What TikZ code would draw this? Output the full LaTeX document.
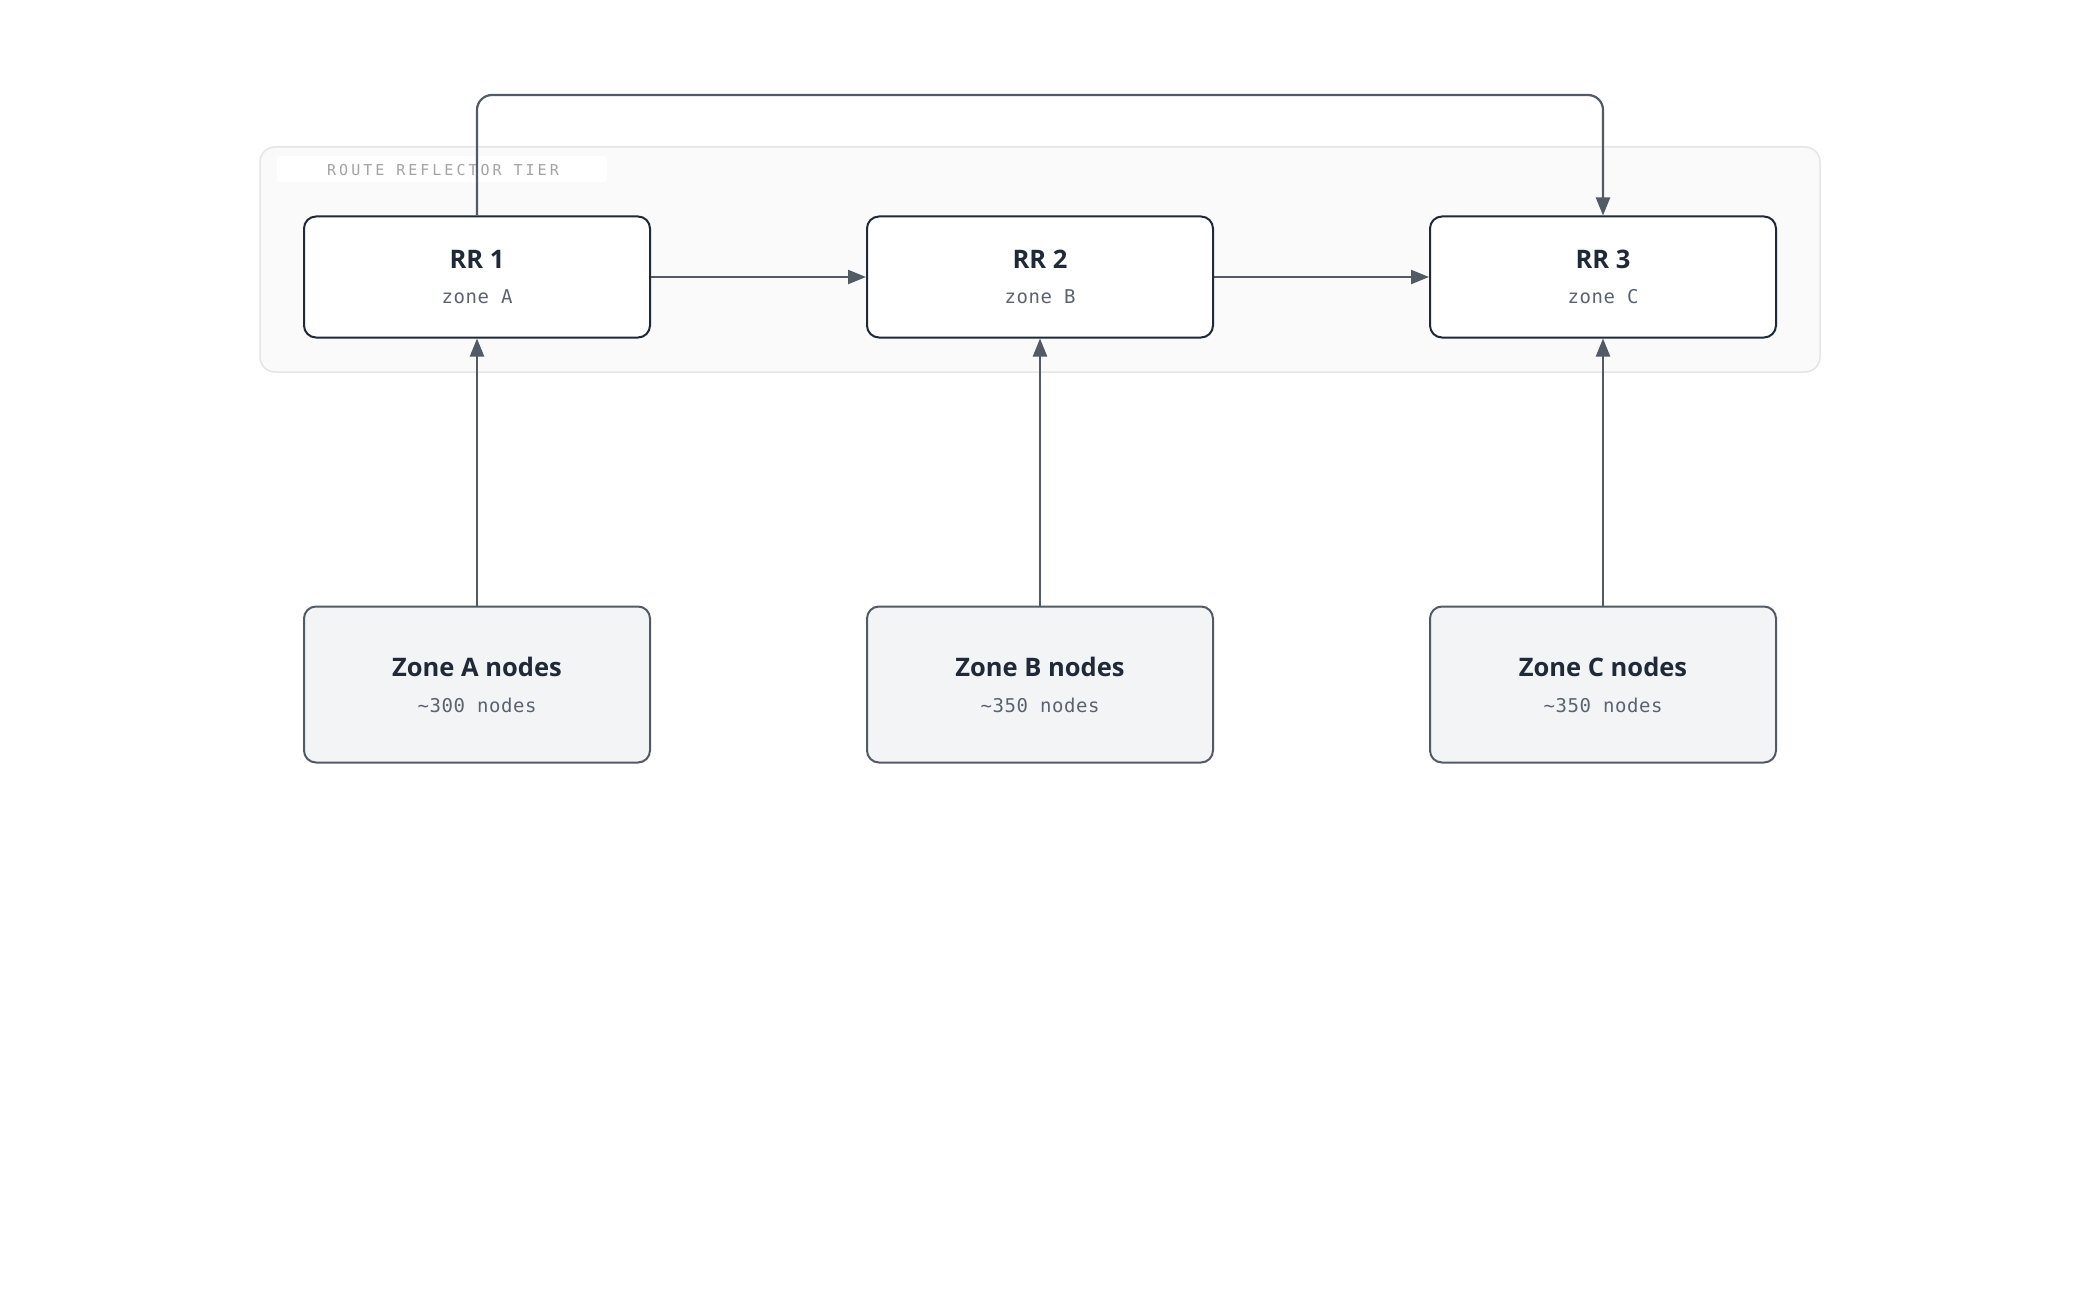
\documentclass[tikz,border=0pt]{standalone}
\usepackage{fontspec}
\setmainfont{Open Sans}
\setmonofont{DejaVu Sans Mono}
\usetikzlibrary{arrows.meta}
\definecolor{ink}{HTML}{1F2937}
\definecolor{subtext}{HTML}{5B6370}
\definecolor{wire}{HTML}{525A66}
\definecolor{zoneline}{HTML}{525A66}
\definecolor{zonefill}{HTML}{F3F4F6}
\definecolor{tierfill}{HTML}{FAFAFA}
\definecolor{tierline}{HTML}{E5E5E5}
\definecolor{tiertext}{HTML}{A3A3A3}
\tikzset{
    rrbox/.style={draw=ink, line width=2pt, fill=white, rounded corners=12pt, minimum width=346pt, minimum height=121pt, inner sep=0pt},
    zonebox/.style={draw=zoneline, line width=2pt, fill=zonefill, rounded corners=12pt, minimum width=346pt, minimum height=156pt, inner sep=0pt},
    title/.style={text=ink, font=\fontsize{25.5}{30}\selectfont\bfseries, anchor=base},
    sub/.style={text=subtext, font=\fontsize{19}{23}\selectfont\ttfamily\addfontfeature{LetterSpace=3}, anchor=base},
    flow/.style={draw=wire, line width=2.2pt, -{Triangle[length=18pt,width=14pt]}}
}
\begin{document}
\begin{tikzpicture}[x=1pt,y=-1pt]
    \useasboundingbox (0,0) rectangle (2080,1300);
    \node[draw=tierline, line width=1.5pt, fill=tierfill, rounded corners=15pt, minimum width=1560pt, minimum height=225pt] (tier) at (1040,259.5) {};
    \node[fill=white, rounded corners=3pt, minimum width=330pt, minimum height=26pt, inner sep=0pt] (tierbg) at (442,169) {};
    \node[text=tiertext, anchor=base, font=\fontsize{15}{18}\selectfont\ttfamily\addfontfeature{LetterSpace=20}] (tierlabel) at (443,176) {ROUTE REFLECTOR TIER};
    \foreach[count=\i] \z/\n in {A/300,B/350,C/350}
    {
        \node[rrbox] (rr\i) at (477+563*\i-563,277) {};
        \node[title] (rrt\i) at (477+563*\i-563,269) {RR \i};
        \node[sub] (rrs\i) at (477+563*\i-563,303) {zone \z};
        \node[zonebox] (zone\i) at (477+563*\i-563,684.5) {};
        \node[title] (zonet\i) at (477+563*\i-563,676) {Zone \z\ nodes};
        \node[sub] (zones\i) at (477+563*\i-563,712) {\textasciitilde\n\ nodes};
        \draw[flow] (zone\i) -- (rr\i);
    }
    \draw[flow] (rr1) -- (rr2);
    \draw[flow] (rr2) -- (rr3);
    \coordinate (loop) at (1040,95);
    \draw[flow, rounded corners=15pt] (rr1.north) |- (loop) -| (rr3.north);
\end{tikzpicture}
\end{document}
